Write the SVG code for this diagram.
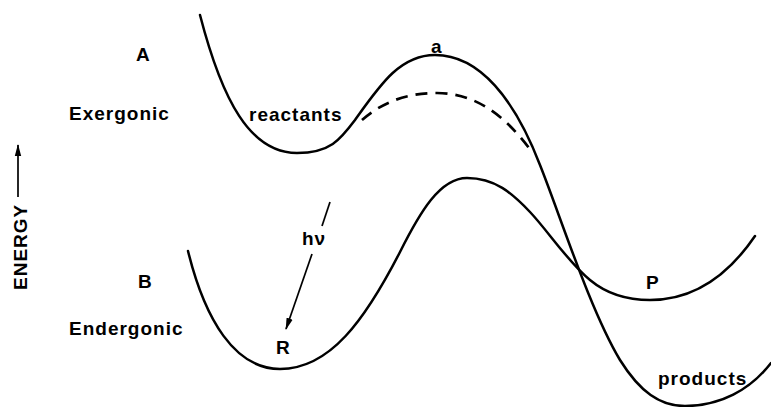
<svg xmlns="http://www.w3.org/2000/svg" width="771" height="407" viewBox="0 0 771 407">
<style>
.t{font-family:"Liberation Sans",Arial,sans-serif;font-weight:bold;font-size:19px;fill:#000;letter-spacing:1px}
.c{fill:none;stroke:#000;stroke-width:2.5;stroke-linecap:round;stroke-linejoin:round}
.d{fill:none;stroke:#000;stroke-width:2.7;stroke-dasharray:12 8}
.a{fill:none;stroke:#000;stroke-width:1.7}
</style>
<defs>
<marker id="ah" viewBox="0 0 12 8" refX="11" refY="4" markerWidth="12" markerHeight="8" markerUnits="userSpaceOnUse" orient="auto">
<path d="M0,0.8 L12,4 L0,7.2 Z" fill="#000"/>
</marker>
</defs>
<g id="curveA">
<path class="c" d="M200,15 C222,100 250,153 297,153 C330,153 340,140 355,120 C380,85 400,55 435,55 C480,55 515,100 540,165 C560,215 590,310 620,360 C640,392 660,406 685,406 C720,406 750,390 771,363"/>
</g>
<g id="curveA-dashed">
<path class="d" d="M362,120 C385,100 410,93 437,93 C475,93 505,115 532,152"/>
</g>
<g id="curveB">
<path class="c" d="M188,251 C205,320 235,369 280,369 C330,369 365,320 400,252 C420,212 440,178 467,178 C495,178 512,193 530,212 C548,231 568,262 590,280 C608,295 628,300 650,300 C690,300 725,280 755,236"/>
</g>
<g id="connectors">
<line class="a" x1="330" y1="202" x2="322" y2="226"/>
<line class="a" x1="312" y1="254" x2="286" y2="329" marker-end="url(#ah)"/>
<line class="a" x1="18" y1="197" x2="18" y2="145" marker-end="url(#ah)"/>
</g>
<g id="labels">
<text class="t" x="136" y="61">A</text>
<text class="t" x="69" y="120">Exergonic</text>
<text class="t" x="249" y="121">reactants</text>
<text class="t" x="431" y="53">a</text>
<text class="t" x="138" y="288">B</text>
<text class="t" x="69" y="335">Endergonic</text>
<text class="t" x="276" y="354">R</text>
<text class="t" x="302" y="245">hν</text>
<text class="t" x="646" y="289">P</text>
<text class="t" x="658" y="385">products</text>
<text class="t" transform="translate(27,290) rotate(-90)">ENERGY</text>
</g>
</svg>
